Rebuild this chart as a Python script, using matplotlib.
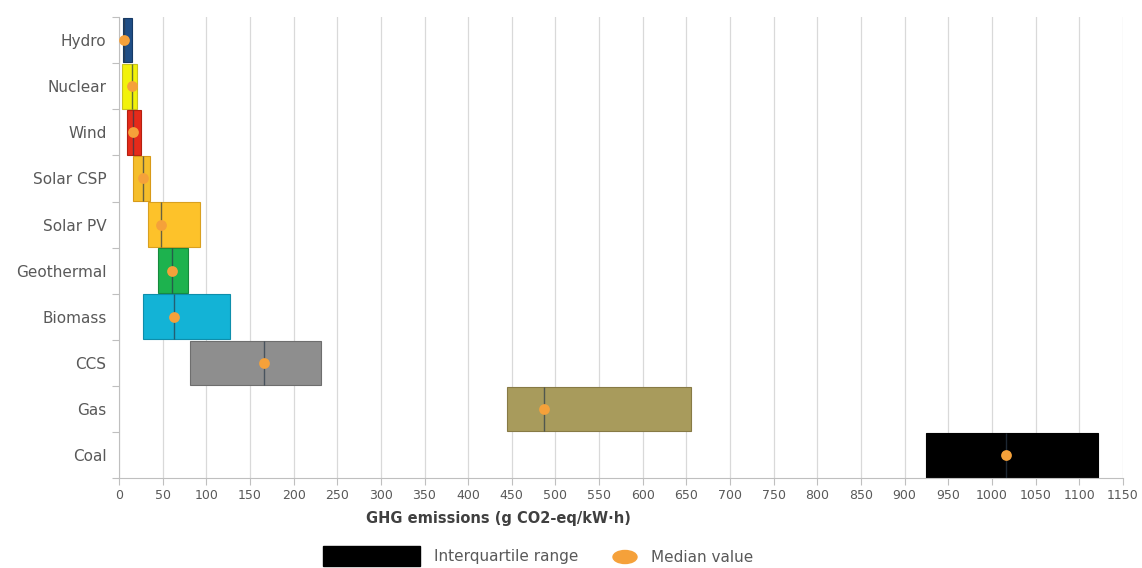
import matplotlib.pyplot as plt
from matplotlib.patches import Rectangle, Ellipse

# interquartile ranges and medians, g CO2-eq/kWh
sources = ["Hydro", "Nuclear", "Wind", "Solar CSP", "Solar PV",
           "Geothermal", "Biomass", "CCS", "Gas", "Coal"]
q1 = [5, 4, 9, 16, 33, 45, 28, 81, 444, 924]
q3 = [15, 21, 25, 35, 93, 79, 127, 231, 655, 1121]
medians = [6, 15, 16, 27, 48, 61, 63, 166, 487, 1016]
colors = ["#1f4e86", "#f2f20a", "#e52a1a", "#f5be2b", "#fdc22a",
          "#1db24e", "#13b3d6", "#8e8e8e", "#a89b5c", "#000000"]
edges = ["#163a66", "#c8c220", "#b52010", "#d89a18", "#d9a020",
         "#168a3c", "#0e8eab", "#6e6e6e", "#877a45", "#000000"]

fig = plt.figure(figsize=(11.42, 5.68), dpi=100)
ax = fig.add_axes([0.1042, 0.158, 0.879, 0.812])

y = list(range(len(sources)))
ax.barh(y, [b - a for a, b in zip(q1, q3)], left=q1, height=0.97,
        color=colors, edgecolor=edges, linewidth=0.8, zorder=2)
for i in y:
    ax.vlines(medians[i], i - 0.485, i + 0.485, color="#2b3a4a",
              linewidth=1.0, alpha=0.7, zorder=3)
ax.scatter(medians, y, s=60, color="#f5a13a", zorder=4, linewidths=0)

ax.set_xlim(0, 1150)
ax.set_ylim(len(sources) - 0.5, -0.5)
ax.set_xticks(range(0, 1151, 50))
ax.set_yticks([i - 0.5 for i in range(len(sources) + 1)], minor=False)
ax.set_yticklabels([])
ax.set_yticks(y, minor=True)
ax.set_yticklabels(sources, minor=True)
ax.tick_params(axis="y", which="minor", length=0, labelsize=11,
               labelcolor="#595959", pad=9)
ax.tick_params(axis="y", which="major", length=5, color="#bfbfbf")
ax.tick_params(axis="x", length=5, color="#bfbfbf", labelsize=9,
               labelcolor="#595959", pad=3)
ax.grid(axis="x", color="#d9d9d9", linewidth=0.9, zorder=0)
ax.set_axisbelow(True)
for s in ["top", "right"]:
    ax.spines[s].set_visible(False)
for s in ["left", "bottom"]:
    ax.spines[s].set_color("#bfbfbf")

fig.text(498 / 1142, 1 - 519 / 568, "GHG emissions (g CO2-eq/kW\u00b7h)",
         ha="center", va="center", fontsize=10.5, fontweight="bold",
         color="#404040")

# legend drawn in figure pixels
fig.patches.append(Rectangle((323 / 1142, 1 - 566 / 568), 97 / 1142, 20 / 568,
                             transform=fig.transFigure, color="black"))
fig.text(434 / 1142, 1 - 557 / 568, "Interquartile range", ha="left",
         va="center", fontsize=11, color="#595959")
fig.patches.append(Ellipse((625 / 1142, 1 - 557 / 568), 24 / 1142, 13 / 568,
                           transform=fig.transFigure, color="#f5a13a"))
fig.text(651 / 1142, 1 - 558 / 568, "Median value", ha="left",
         va="center", fontsize=11, color="#595959")

fig.savefig("out.png", dpi=100)
